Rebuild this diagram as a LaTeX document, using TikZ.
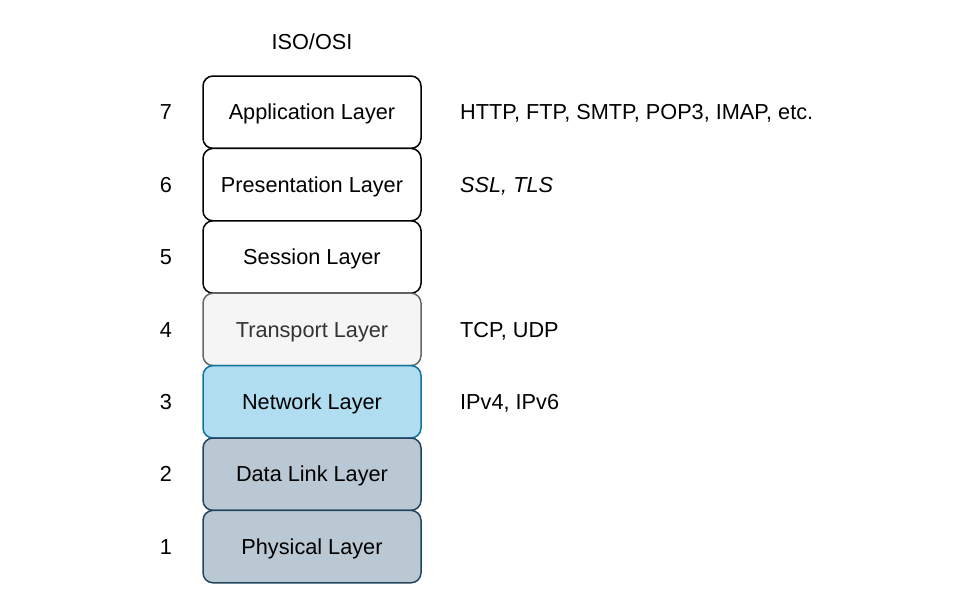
\documentclass[tikz,border=0pt]{standalone}
\usepackage{fontspec}
\setmainfont{Liberation Sans}
\definecolor{trfill}{HTML}{F5F5F5}
\definecolor{trdraw}{HTML}{666666}
\definecolor{trtext}{HTML}{333333}
\definecolor{nwfill}{HTML}{B1DDF0}
\definecolor{nwdraw}{HTML}{10739E}
\definecolor{dlfill}{HTML}{BAC8D3}
\definecolor{dldraw}{HTML}{23445D}
\begin{document}
\begin{tikzpicture}[x=1pt,y=-1pt,
  txt/.style={font=\fontsize{21.7}{26}\selectfont, text height=15.5pt, text depth=0pt},
  layer/.style={txt, draw=black, fill=white, rounded corners=10pt, line width=1.5pt, minimum width=218pt, minimum height=72.4pt, inner sep=0pt},
  lbl/.style={txt, inner sep=0pt},
  side/.style={txt, inner sep=0pt, anchor=west}]
\useasboundingbox (0,0) rectangle (976,597);
\node[lbl] (title) at (312,42) {ISO/OSI};
\node[layer] (l7) at (312,112.2) {Application Layer};
\node[layer] (l6) at (312,184.6) {Presentation Layer};
\node[layer] (l5) at (312,257.0) {Session Layer};
\node[layer, fill=trfill, draw=trdraw, text=trtext] (l4) at (312,329.4) {Transport Layer};
\node[layer, fill=nwfill, draw=nwdraw] (l3) at (312,401.8) {Network Layer};
\node[layer, fill=dlfill, draw=dldraw] (l2) at (312,474.2) {Data Link Layer};
\node[layer, fill=dlfill, draw=dldraw] (l1) at (312,546.6) {Physical Layer};
\foreach \n/\y in {7/112.2,6/184.6,5/257.0,4/329.4,3/401.8,2/474.2,1/546.6}
  \node[lbl] (n\n) at (166,\y) {\n};
\node[side] (p7) at (460,112.2) {HTTP, FTP, SMTP, POP3, IMAP, etc.};
\node[side] (p6) at (460,184.6) {\itshape SSL, TLS};
\node[side] (p4) at (460,329.4) {TCP, UDP};
\node[side] (p3) at (460,401.8) {IPv4, IPv6};
\end{tikzpicture}
\end{document}
